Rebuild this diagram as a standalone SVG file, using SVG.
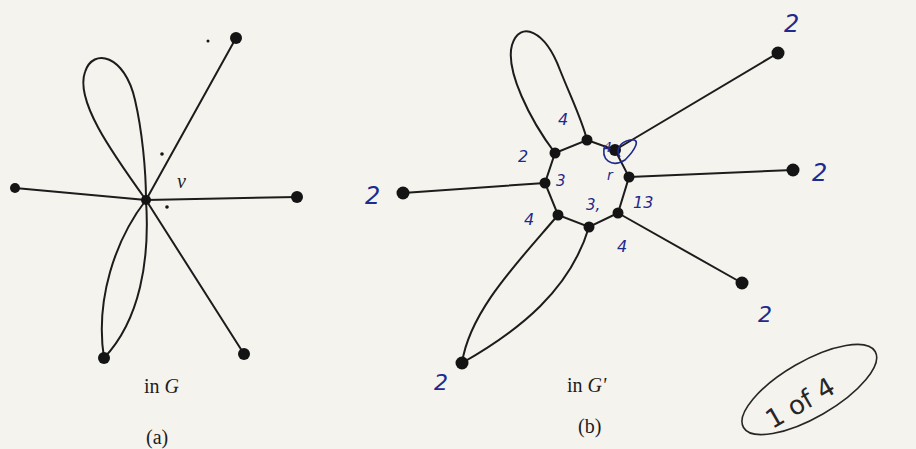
<svg xmlns="http://www.w3.org/2000/svg" width="916" height="449" viewBox="0 0 916 449">
<style>
.e{stroke:#1c1c1c;stroke-width:2;fill:none;stroke-linecap:round}
.v{fill:#141414}
.t{font-family:"Liberation Serif",serif;fill:#1c1c1c;font-size:20px}
.h{font-family:"DejaVu Sans",sans-serif;fill:#1e2a8c;font-style:italic}
.hd{stroke:#1e2a8c;stroke-width:1.6;fill:none}
</style>
<rect width="916" height="449" fill="#f5f3ee"/>
<g id="connectors">
<line class="e" x1="146" y1="200" x2="236" y2="38"/>
<line class="e" x1="146" y1="200" x2="15" y2="188"/>
<line class="e" x1="146" y1="200" x2="297" y2="197"/>
<line class="e" x1="146" y1="200" x2="244" y2="354"/>
<path class="e" d="M146,200 C110,150 75,100 85,72 C93,47 125,55 135,100 C142,130 146,170 146,200"/>
<path class="e" d="M146,200 C115,240 95,300 104,358"/>
<path class="e" d="M146,200 C150,260 140,320 104,358"/>
<path class="e" d="M587,140 L615,150 L629,177 L618,213 L589,227 L558,215 L545,183 L555,153 Z"/>
<line class="e" x1="615" y1="150" x2="778" y2="53"/>
<line class="e" x1="629" y1="177" x2="793" y2="170"/>
<line class="e" x1="618" y1="213" x2="742" y2="283"/>
<line class="e" x1="545" y1="183" x2="403" y2="193"/>
<path class="e" d="M555,153 C530,120 505,70 512,45 C520,20 545,30 560,70 C572,100 582,120 587,140"/>
<path class="e" d="M558,215 C520,260 470,310 462,363"/>
<path class="e" d="M589,227 C570,290 520,330 462,363"/>
</g>
<g id="nodeA_center"><circle class="v" cx="146" cy="200" r="5"/></g>
<g id="nodeA_tr"><circle class="v" cx="236" cy="38" r="6"/></g>
<g id="nodeA_l"><circle class="v" cx="15" cy="188" r="5"/></g>
<g id="nodeA_r"><circle class="v" cx="297" cy="197" r="6"/></g>
<g id="nodeA_bl"><circle class="v" cx="104" cy="358" r="6"/></g>
<g id="nodeA_br"><circle class="v" cx="244" cy="354" r="6"/></g>
<g id="marksA">
<circle class="v" cx="208" cy="41" r="1.5"/>
<circle class="v" cx="162" cy="154" r="1.8"/>
<circle class="v" cx="167" cy="207" r="1.8"/>
<text class="t" x="177" y="188" font-style="italic">v</text>
<text class="t" x="144" y="393">in <tspan font-style="italic">G</tspan></text>
<text class="t" x="146" y="444">(a)</text>
</g>
<g id="octagon">
<circle class="v" cx="587" cy="140" r="5.5"/>
<circle class="v" cx="615" cy="150" r="6"/>
<circle class="v" cx="629" cy="177" r="5.5"/>
<circle class="v" cx="618" cy="213" r="5.5"/>
<circle class="v" cx="589" cy="227" r="5.5"/>
<circle class="v" cx="558" cy="215" r="5.5"/>
<circle class="v" cx="545" cy="183" r="5.5"/>
<circle class="v" cx="555" cy="153" r="5.5"/>
</g>
<g id="nodeB_tr"><circle class="v" cx="778" cy="53" r="6.5"/></g>
<g id="nodeB_r"><circle class="v" cx="793" cy="170" r="6.5"/></g>
<g id="nodeB_br"><circle class="v" cx="742" cy="283" r="6.5"/></g>
<g id="nodeB_l"><circle class="v" cx="403" cy="193" r="6.5"/></g>
<g id="nodeB_bl"><circle class="v" cx="462" cy="363" r="6.5"/></g>
<g id="labelsB">
<text class="t" x="567" y="392">in <tspan font-style="italic">G'</tspan></text>
<text class="t" x="578" y="433">(b)</text>
</g>
<g id="handwriting">
<text class="h" x="784" y="32" font-size="24">2</text>
<text class="h" x="812" y="181" font-size="24">2</text>
<text class="h" x="758" y="322" font-size="22">2</text>
<text class="h" x="365" y="204" font-size="24">2</text>
<text class="h" x="434" y="390" font-size="22">2</text>
<text class="h" x="518" y="162" font-size="16">2</text>
<text class="h" x="556" y="186" font-size="15">3</text>
<text class="h" x="524" y="225" font-size="16">4</text>
<text class="h" x="558" y="125" font-size="16">4</text>
<text class="h" x="586" y="210" font-size="15">3,</text>
<text class="h" x="617" y="252" font-size="16">4</text>
<text class="h" x="633" y="208" font-size="16">13</text>
<text class="h" x="603" y="152" font-size="14">4</text>
<text class="h" x="607" y="180" font-size="14">r</text>
<path class="hd" d="M605,145 C600,160 612,168 625,160 C635,150 642,138 630,140 C620,142 615,150 620,157"/>
<g transform="rotate(-30 805 392)">
<text x="758" y="408" font-family="DejaVu Sans,sans-serif" font-size="26" fill="#262626">1 of  4</text>
<ellipse cx="810" cy="392" rx="76" ry="28" fill="none" stroke="#262626" stroke-width="1.6" stroke-dasharray="380 60"/>
</g>
</g>
</svg>
